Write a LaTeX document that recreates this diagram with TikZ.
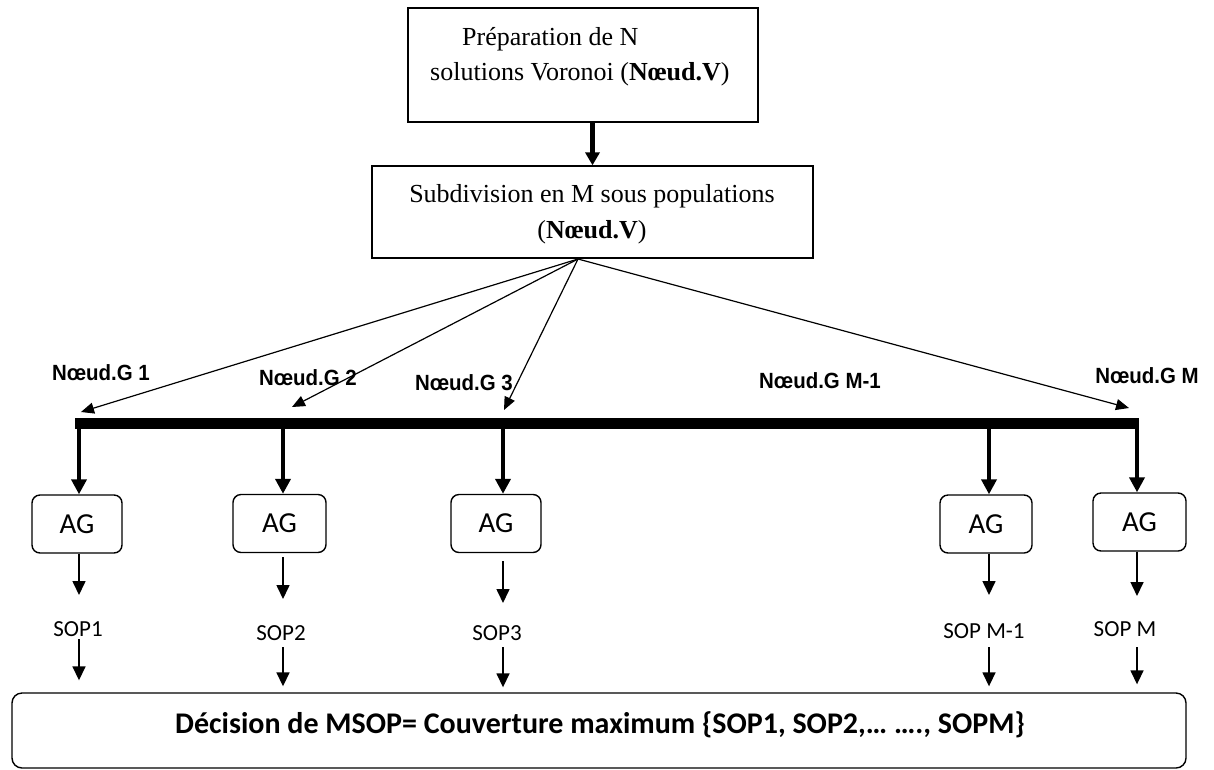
\documentclass[tikz,border=0pt]{standalone}
\usepackage{fontspec}
\setmainfont{Liberation Serif}
\newfontfamily\calfont{Carlito}
\newfontfamily\labfont[FakeStretch=0.93]{Liberation Sans}
\usetikzlibrary{arrows.meta,calc}
\tikzset{
  sqbox/.style={draw, line width=1.3pt, inner sep=0pt},
  serif26/.style={inner sep=0pt, font=\fontsize{26}{30}\selectfont},
  agbox/.style={draw, line width=1.4pt, rounded corners=8pt, inner sep=0pt,
    minimum height=58pt, font=\calfont\fontsize{29}{30}\selectfont},
  soplab/.style={inner sep=0pt, anchor=base, font=\calfont\fontsize{23}{26}\selectfont},
  glab/.style={inner sep=0pt, anchor=base, font=\labfont\bfseries\fontsize{22}{24}\selectfont},
  fanarrow/.style={line width=1.2pt, -{Triangle[length=13pt,width=11pt]}},
  thickarrow/.style={line width=4pt, -{Triangle[length=15pt,width=15pt]}},
  thinarrow/.style={line width=1.6pt, -{Triangle[length=14pt,width=13pt]}},
}
\begin{document}
\begin{tikzpicture}[x=1pt,y=-1pt]
\useasboundingbox (0,0) rectangle (1214,769);

% top box
\node[sqbox, minimum width=350pt, minimum height=114pt] (prep) at (583,65) {};
\node[serif26, anchor=base west] (prep1) at (462,45) {Préparation de N};
\node[serif26, anchor=base west] (prep2) at (430,80) {solutions Voronoi (\textbf{Nœud.V})};

% second box
\node[sqbox, minimum width=441pt, minimum height=92pt] (subdiv) at (592.5,212) {};
\node[serif26, anchor=base] (sub1) at (592,202) {Subdivision en M sous populations};
\node[serif26, anchor=base] (sub2) at (592,238) {(\textbf{Nœud.V})};

\draw[line width=5pt, -{Triangle[length=13pt,width=14pt]}] (prep.south -| subdiv.north) -- (subdiv.north);

% fan
\coordinate (src) at (578,259);
\coordinate (t1) at (81,412);
\coordinate (t2) at (292,407);
\coordinate (t3) at (504,410);
\coordinate (tM) at (1129,408);
\draw[fanarrow] (src) -- (t1);
\draw[fanarrow] (src) -- (t2);
\draw[fanarrow] (src) -- (t3);
\draw[fanarrow] (src) -- (tM);

% labels
\node[glab] (g1) at (101,380) {Nœud.G 1};
\node[glab] (g2) at (308,385) {Nœud.G 2};
\node[glab] (g3) at (464,390) {Nœud.G 3};
\node[glab] (gm1) at (820,388) {Nœud.G M-1};
\node[glab] (gm) at (1147,383) {Nœud.G M};

% bar
\coordinate (barL) at (75,423.5);
\coordinate (barR) at (1139,423.5);
\draw[line width=10.5pt] (barL) -- (barR);
\coordinate (b1) at (79,423);
\coordinate (b2) at (283,423);
\coordinate (b3) at (503,423);
\coordinate (b4) at (989,423);
\coordinate (b5) at (1137,423);

% AG boxes
\node[agbox, minimum width=90pt] (ag1) at (77,524) {AG};
\node[agbox, minimum width=93pt] (ag2) at (279.5,523.5) {AG};
\node[agbox, minimum width=90pt] (ag3) at (496,523.5) {AG};
\node[agbox, minimum width=92pt] (ag4) at (986,524) {AG};
\node[agbox, minimum width=93pt] (ag5) at (1139.5,522) {AG};

\draw[thickarrow] (b1) -- (b1 |- ag1.north);
\draw[thickarrow] (b2) -- (b2 |- ag2.north);
\draw[thickarrow] (b3) -- (b3 |- ag3.north);
\draw[thickarrow] (b4) -- (b4 |- ag4.north);
\draw[thickarrow] (b5) -- (b5 |- ag5.north);

% SOP labels
\node[soplab] (sop1) at (78,636) {SOP1};
\node[soplab] (sop2) at (281,640) {SOP2};
\node[soplab] (sop3) at (497,640) {SOP3};
\node[soplab] (sop4) at (984,638) {SOP M-1};
\node[soplab] (sop5) at (1125,636) {SOP M};

% arrows AG -> SOP
\coordinate (u1) at (79,595);
\coordinate (u2) at (283,599);
\coordinate (u3) at (503,603);
\coordinate (u4) at (989,595);
\coordinate (u5) at (1137,596);
\draw[thinarrow] (b1 |- ag1.south) -- (u1);
\draw[thinarrow] ($(b2 |- ag2.south)+(0,4)$) -- (u2);
\draw[thinarrow] ($(b3 |- ag3.south)+(0,8)$) -- (u3);
\draw[thinarrow] (b4 |- ag4.south) -- (u4);
\draw[thinarrow] (b5 |- ag5.south) -- (u5);

% bottom box
\node[draw, line width=1.4pt, rounded corners=10pt, minimum width=1174pt, minimum height=75pt, inner sep=0pt] (dec) at (599,730.5) {};
\node[inner sep=0pt, anchor=base west, font=\calfont\bfseries\fontsize{30}{32}\selectfont] (dectext) at (175,733)
  {Décision de MSOP= Couverture maximum \{SOP1, SOP2,… …., SOPM\}};

% arrows SOP -> decision
\coordinate (v1) at (79,639);
\coordinate (v2) at (283,647);
\coordinate (v3) at (503,647);
\coordinate (v4) at (989,647);
\coordinate (v5) at (1137,647);
\draw[thinarrow] (v1) -- ($(v1 |- dec.north)+(0,-12)$);
\draw[thinarrow] (v2) -- ($(v2 |- dec.north)+(0,-6)$);
\draw[thinarrow] (v3) -- ($(v3 |- dec.north)+(0,-5)$);
\draw[thinarrow] (v4) -- ($(v4 |- dec.north)+(0,-6)$);
\draw[thinarrow] (v5) -- ($(v5 |- dec.north)+(0,-8)$);
\end{tikzpicture}
\end{document}
